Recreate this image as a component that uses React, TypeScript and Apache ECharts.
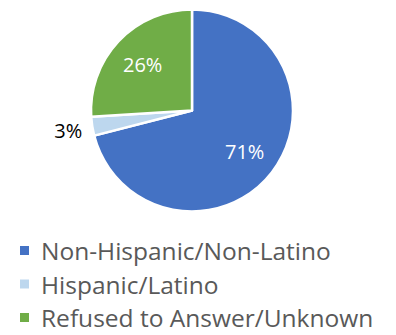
import React, { useEffect, useRef } from "react";
import * as echarts from "echarts";

const categories = ["Non-Hispanic/Non-Latino", "Hispanic/Latino", "Refused to Answer/Unknown"];
const values = [71, 3, 26];
const colors = ["#4472C4", "#BDD7EE", "#70AD47"];
const labelColors = ["#ffffff", "#000000", "#ffffff"];
const labelRadiusRatio = [0.66, 1.24, 0.67];

const CX = 192;
const CY = 110.5;
const R = 101;

export default function App() {
  const ref = useRef<HTMLDivElement>(null);
  useEffect(() => {
    if (!ref.current) return;
    const chart = echarts.init(ref.current, null, { renderer: "svg" });
    const total = values.reduce((a, b) => a + b, 0);
    const mids: number[] = [];
    let acc = 0;
    values.forEach((v) => {
      mids.push(((acc + v / 2) / total) * Math.PI * 2);
      acc += v;
    });
    chart.setOption({
      animation: false,
      legend: {
        orient: "vertical",
        left: 18,
        top: 237.5,
        height: 200,
        padding: 0,
        itemWidth: 11,
        itemHeight: 11,
        itemGap: 7.5,
        icon: "rect",
        textStyle: {
          fontFamily: "Open Sans",
          fontSize: 24.5,
          color: "#595959",
          lineHeight: 26,
          padding: [0, 0, 0, 6],
        },
        data: categories,
      },
      series: [
        {
          type: "pie",
          center: [CX, CY],
          radius: [0, R],
          startAngle: 90,
          clockwise: true,
          data: categories.map((name, i) => ({
            name,
            value: values[i],
            itemStyle: { color: colors[i] },
            label: { color: labelColors[i] },
          })),
          itemStyle: { borderColor: "#ffffff", borderWidth: 2.5 },
          label: {
            show: true,
            position: "inside",
            formatter: "{c}%",
            fontFamily: "Open Sans",
            fontSize: 20,
          },
          labelLine: { show: false },
          labelLayout: (p: any) => {
            const i = p.dataIndex;
            const a = mids[i];
            const d = R * labelRadiusRatio[i];
            return {
              x: CX + Math.sin(a) * d,
              y: CY - Math.cos(a) * d,
              align: "center",
              verticalAlign: "middle",
            };
          },
        },
      ],
    });
    return () => chart.dispose();
  }, []);
  return <div ref={ref} style={{ width: 396, height: 335, position: "absolute", left: 0, top: 0 }} />;
}
